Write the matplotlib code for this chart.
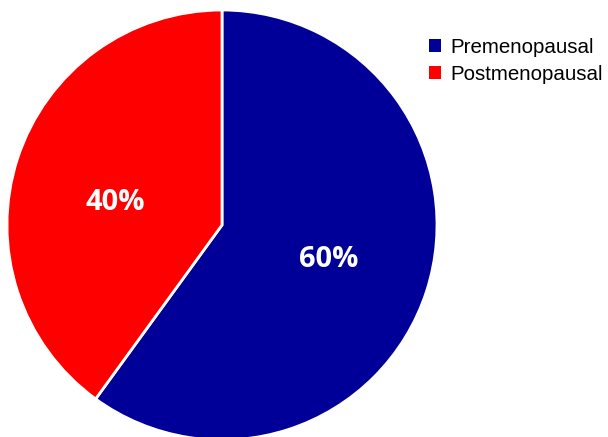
import matplotlib
matplotlib.use("Agg")
import matplotlib.pyplot as plt
from matplotlib.patches import Patch

categories = ["Premenopausal", "Postmenopausal"]
values = [60, 40]
colors = ["#000099", "#FF0000"]

fig = plt.figure(figsize=(6.08, 4.37), dpi=100)
ax = fig.add_axes([7/608, -3/437, 430/608, 430/437])
wedges, texts, autotexts = ax.pie(
    values, colors=colors, startangle=90, counterclock=False,
    autopct=lambda p: f"{p:.0f}%", pctdistance=0.52, radius=1,
    wedgeprops=dict(edgecolor="white", linewidth=2),
    textprops=dict(color="white", fontsize=21, fontweight="bold", family="Open Sans"))
# nudge the small-slice label slightly toward the reference placement
x, y = autotexts[1].get_position()
autotexts[1].set_position((x, y - 0.055))
ax.set_xlim(-1, 1)
ax.set_ylim(-1, 1)
ax.set_aspect("equal")
ax.axis("off")

handles = [Patch(facecolor=c, edgecolor="none") for c in colors]
fig.legend(handles, categories, loc="upper left", bbox_to_anchor=(429/608, 1 - 38/437),
           frameon=False, prop=dict(family="Liberation Sans", size=14.8),
           handlelength=0.6, handleheight=0.6, handletextpad=0.45, labelspacing=0.38,
           borderaxespad=0, borderpad=0)
fig.savefig("out.png", dpi=100)
